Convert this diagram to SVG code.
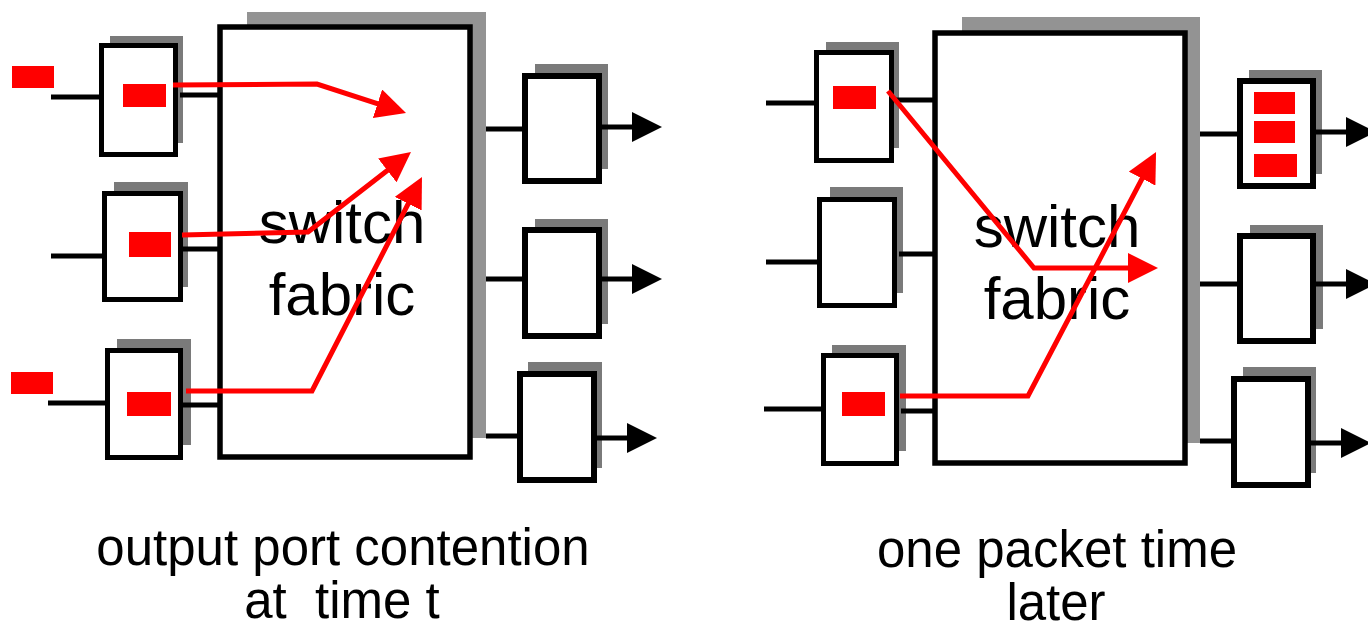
<svg xmlns="http://www.w3.org/2000/svg" width="1368" height="624" viewBox="0 0 1368 624">
<style>
.fshadow{fill:#939393}
.bshadow{fill:#7a7a7a}
.fabric{fill:#fff;stroke:#000;stroke-width:5.5}
.inbox{fill:#fff;stroke:#000;stroke-width:5}
.outbox{fill:#fff;stroke:#000;stroke-width:6}
.pkt{fill:#ff0000}
.wire{stroke:#000;stroke-width:5;fill:none}
.red{stroke:#ff0000;stroke-width:5;fill:none;stroke-linejoin:miter}
.lbl{font-family:"Liberation Sans",Arial,sans-serif;fill:#000;text-anchor:middle}
.big{font-size:60px}
.cap{font-size:51px;white-space:pre}
</style>
<defs>
<marker id="ahR" viewBox="0 0 30 30" markerUnits="userSpaceOnUse" markerWidth="30" markerHeight="30" refX="20" refY="15" orient="auto"><path d="M0,0 L30,15 L0,30 z" fill="#ff0000"/></marker>
<marker id="ahK" viewBox="0 0 30 30" markerUnits="userSpaceOnUse" markerWidth="30" markerHeight="30" refX="20" refY="15" orient="auto"><path d="M0,0 L30,15 L0,30 z" fill="#000"/></marker>
</defs>
<rect width="1368" height="624" fill="#fff"/>

<!-- LEFT PANEL -->
<g id="fabric-left">
<rect class="fshadow" x="247" y="12" width="239" height="426"/>
<rect class="fabric" x="220" y="27" width="250" height="430"/>
<text class="lbl big" x="342" y="243">switch</text>
<text class="lbl big" x="342" y="315">fabric</text>
</g>
<g id="in-left-1">
<rect class="bshadow" x="110" y="36" width="73" height="107"/>
<rect class="inbox" x="101.5" y="45.5" width="74" height="109"/>
<rect class="pkt" x="123" y="84" width="43" height="23"/>
</g>
<g id="in-left-2">
<rect class="bshadow" x="114" y="182" width="74" height="105"/>
<rect class="inbox" x="104.5" y="193.5" width="76" height="106"/>
<rect class="pkt" x="129" y="232" width="42" height="25"/>
</g>
<g id="in-left-3">
<rect class="bshadow" x="117" y="339" width="74" height="106"/>
<rect class="inbox" x="107.5" y="350.5" width="73" height="107"/>
<rect class="pkt" x="127" y="392" width="44" height="24"/>
</g>
<g id="pkt-left-1"><rect class="pkt" x="12" y="66" width="42" height="22"/></g>
<g id="pkt-left-3"><rect class="pkt" x="11" y="372" width="42" height="22"/></g>
<g id="out-left-1">
<rect class="bshadow" x="535" y="64" width="73" height="105"/>
<rect class="outbox" x="525" y="76" width="74" height="105"/>
</g>
<g id="out-left-2">
<rect class="bshadow" x="535" y="219" width="73" height="105"/>
<rect class="outbox" x="525" y="230" width="74" height="106"/>
</g>
<g id="out-left-3">
<rect class="bshadow" x="528" y="362" width="74" height="106"/>
<rect class="outbox" x="520" y="374" width="74" height="106"/>
</g>

<!-- RIGHT PANEL -->
<g id="fabric-right">
<rect class="fshadow" x="962" y="17" width="238" height="426"/>
<rect class="fabric" x="935" y="33" width="250" height="430"/>
<text class="lbl big" x="1057" y="247">switch</text>
<text class="lbl big" x="1057" y="319">fabric</text>
</g>
<g id="in-right-1">
<rect class="bshadow" x="826" y="42" width="73" height="106"/>
<rect class="inbox" x="816.5" y="52.5" width="75" height="108"/>
<rect class="pkt" x="833" y="86" width="43" height="23"/>
</g>
<g id="in-right-2">
<rect class="bshadow" x="830" y="187" width="73" height="106"/>
<rect class="inbox" x="819.5" y="199.5" width="75" height="106"/>
</g>
<g id="in-right-3">
<rect class="bshadow" x="832" y="345" width="74" height="106"/>
<rect class="inbox" x="823.5" y="355.5" width="73" height="108"/>
<rect class="pkt" x="842" y="392" width="43" height="24"/>
</g>
<g id="out-right-1">
<rect class="bshadow" x="1249" y="70" width="73" height="104"/>
<rect class="outbox" x="1240" y="81" width="73" height="105"/>
<rect class="pkt" x="1254" y="92" width="41" height="22"/>
<rect class="pkt" x="1254" y="121" width="41" height="22"/>
<rect class="pkt" x="1254" y="154" width="43" height="23"/>
</g>
<g id="out-right-2">
<rect class="bshadow" x="1250" y="225" width="73" height="104"/>
<rect class="outbox" x="1240" y="236" width="73" height="105"/>
</g>
<g id="out-right-3">
<rect class="bshadow" x="1243" y="367" width="73" height="106"/>
<rect class="outbox" x="1234" y="379" width="74" height="106"/>
</g>

<g id="connectors">
<!-- left black wires -->
<line class="wire" x1="51" y1="97" x2="99" y2="97"/>
<line class="wire" x1="180" y1="95" x2="218" y2="95"/>
<line class="wire" x1="51" y1="256" x2="102" y2="256"/>
<line class="wire" x1="183" y1="249" x2="218" y2="249"/>
<line class="wire" x1="48" y1="403" x2="105" y2="403"/>
<line class="wire" x1="183" y1="405" x2="218" y2="405"/>
<line class="wire" x1="486" y1="129" x2="522" y2="129"/>
<line class="wire" x1="486" y1="279" x2="522" y2="279"/>
<line class="wire" x1="486" y1="436" x2="517" y2="436"/>
<line class="wire" x1="602" y1="127" x2="652" y2="127" marker-end="url(#ahK)"/>
<line class="wire" x1="602" y1="279" x2="652" y2="279" marker-end="url(#ahK)"/>
<line class="wire" x1="597" y1="438" x2="647" y2="438" marker-end="url(#ahK)"/>
<!-- right black wires -->
<line class="wire" x1="766" y1="103" x2="814" y2="103"/>
<line class="wire" x1="896" y1="100" x2="933" y2="100"/>
<line class="wire" x1="766" y1="262" x2="817" y2="262"/>
<line class="wire" x1="899" y1="254" x2="933" y2="254"/>
<line class="wire" x1="764" y1="409" x2="821" y2="409"/>
<line class="wire" x1="901" y1="411" x2="933" y2="411"/>
<line class="wire" x1="1200" y1="134" x2="1237" y2="134"/>
<line class="wire" x1="1200" y1="284" x2="1237" y2="284"/>
<line class="wire" x1="1200" y1="441" x2="1231" y2="441"/>
<line class="wire" x1="1316" y1="132" x2="1366" y2="132" marker-end="url(#ahK)"/>
<line class="wire" x1="1316" y1="284" x2="1366" y2="284" marker-end="url(#ahK)"/>
<line class="wire" x1="1311" y1="443" x2="1361" y2="443" marker-end="url(#ahK)"/>
<!-- red paths -->
<polyline class="red" points="173,85 317,84 396.5,109.9" marker-end="url(#ahR)"/>
<polyline class="red" points="182,235 308,232 403.1,158.2" marker-end="url(#ahR)"/>
<polyline class="red" points="186,391 312,391 417.4,185.9" marker-end="url(#ahR)"/>
<polyline class="red" points="888,91 1034,268 1148,268" marker-end="url(#ahR)"/>
<polyline class="red" points="900,396 1028,396 1151.4,160.9" marker-end="url(#ahR)"/>
</g>

<g id="captions">
<text class="lbl cap" x="343" y="565">output port contention</text>
<text class="lbl cap" x="342" y="618">at  time t</text>
<text class="lbl cap" x="1057" y="567">one packet time</text>
<text class="lbl cap" x="1056" y="620">later</text>
</g>
</svg>
